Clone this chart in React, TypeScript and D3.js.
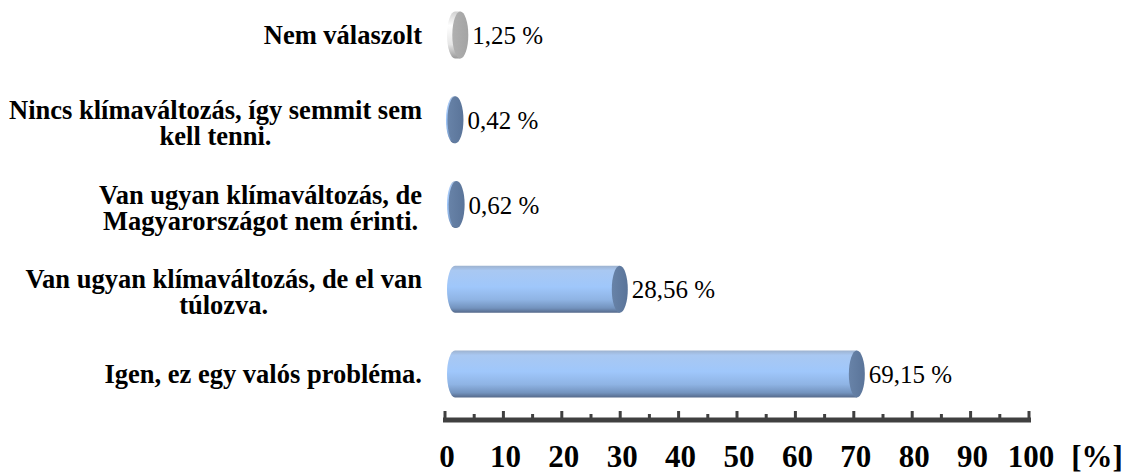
import React, { useEffect, useRef } from "react";
import * as d3 from "d3";

const categories = [
  "Nem válaszolt",
  "Nincs klímaváltozás, így semmit sem kell tenni.",
  "Van ugyan klímaváltozás, de Magyarországot nem érinti.",
  "Van ugyan klímaváltozás, de el van túlozva.",
  "Igen, ez egy valós probléma.",
];
const categoryLines = [
  ["Nem válaszolt"],
  ["Nincs klímaváltozás, így semmit sem", "kell tenni."],
  ["Van ugyan klímaváltozás, de", "Magyarországot nem érinti."],
  ["Van ugyan klímaváltozás, de el van", "túlozva."],
  ["Igen, ez egy valós probléma."],
];
const values = [1.25, 0.42, 0.62, 28.56, 69.15];
const valueLabels = ["1,25 %", "0,42 %", "0,62 %", "28,56 %", "69,15 %"];
const barStyles = ["gray", "blue", "blue", "blue", "blue"];
const tickValues = [0, 10, 20, 30, 40, 50, 60, 70, 80, 90, 100];
const minorTickValues = [5, 15, 25, 35, 45, 55, 65, 75, 85, 95];
const unitLabel = "[%]";

const W = 1132;
const H = 473;
const FONT = "Liberation Serif";

export default function App() {
  const ref = useRef<SVGSVGElement | null>(null);

  useEffect(() => {
    const svg = d3.select(ref.current);
    svg.selectAll("*").remove();

    const x = d3.scaleLinear().domain([0, 100]).range([445, 1029]);
    const y = d3.scalePoint<string>().domain(categories).range([35, 374]);
    const depth = 8;
    const rx = 8;
    const ry = 23.5;

    const defs = svg.append("defs");
    const addGrad = (id: string, stops: [number, string][], horiz = false) => {
      const g = defs.append("linearGradient").attr("id", id).attr("x1", 0).attr("y1", 0)
        .attr("x2", horiz ? 1 : 0).attr("y2", horiz ? 0 : 1);
      stops.forEach(([o, c]) => g.append("stop").attr("offset", o).attr("stop-color", c));
    };
    addGrad("gBlue", [
      [0, "#9db2cf"],
      [0.1, "#a9c8f2"],
      [0.45, "#9fc7fb"],
      [0.72, "#8fb4e4"],
      [0.9, "#7393be"],
      [1, "#55698a"],
    ]);
    addGrad("gGray", [
      [0, "#d0d0d0"],
      [0.3, "#ffffff"],
      [0.7, "#e6e6e6"],
      [1, "#9a9a9a"],
    ]);
    addGrad("fBlue", [[0, "#6883a8"], [1, "#5a7499"]], true);
    addGrad("fGray", [[0, "#b0b0b0"], [1, "#a4a4a4"]], true);

    const bars = svg.append("g");
    categories.forEach((cat, i) => {
      const cy = y(cat) as number;
      const right = x(values[i]) + depth;
      const left = Math.min(x(0) + depth + 2, right - 1.5);
      const isGray = barStyles[i] === "gray";
      const g = bars.append("g");
      g.append("path")
        .attr(
          "d",
          `M${right},${cy - ry} L${left},${cy - ry} A${rx},${ry} 0 0 0 ${left},${cy + ry} L${right},${cy + ry} Z`
        )
        .attr("fill", isGray ? "url(#gGray)" : "url(#gBlue)");
      g.append("ellipse")
        .attr("cx", right)
        .attr("cy", cy)
        .attr("rx", rx)
        .attr("ry", ry)
        .attr("fill", isGray ? "url(#fGray)" : "url(#fBlue)");
      g.append("text")
        .attr("x", right + 12)
        .attr("y", cy + 9)
        .style("font-family", FONT)
        .style("font-size", "25px")
        .attr("fill", "#000")
        .text(valueLabels[i]);
    });

    const labels = svg.append("g")
      .style("font-family", FONT)
      .style("font-weight", "bold")
      .style("font-size", "26.5px")
      .attr("fill", "#000");
    categories.forEach((cat, i) => {
      const cy = y(cat) as number;
      const lines = categoryLines[i];
      const n = lines.length;
      const texts = lines.map((l) => labels.append("text").text(l));
      const widths = texts.map((t) => (t.node() as SVGTextElement).getComputedTextLength());
      const maxW = d3.max(widths) as number;
      const center = 422 - maxW / 2;
      texts.forEach((t, j) => {
        t.attr("x", center)
          .attr("text-anchor", "middle")
          .attr("y", cy + 9 + (j - (n - 1) / 2) * 26 + (n > 1 ? 3 : 0));
      });
    });

    const axis = svg.append("g");
    const axisY = 420;
    axis.append("line")
      .attr("x1", x(0) - 2)
      .attr("x2", x(100) + 2)
      .attr("y1", axisY)
      .attr("y2", axisY)
      .attr("stroke", "#404040")
      .attr("stroke-width", 5);
    axis.selectAll("line.major")
      .data(tickValues)
      .join("line")
      .attr("class", "major")
      .attr("x1", (d) => x(d))
      .attr("x2", (d) => x(d))
      .attr("y1", 411)
      .attr("y2", axisY)
      .attr("stroke", "#404040")
      .attr("stroke-width", 3);
    axis.selectAll("line.minor")
      .data(minorTickValues)
      .join("line")
      .attr("class", "minor")
      .attr("x1", (d) => x(d))
      .attr("x2", (d) => x(d))
      .attr("y1", 414)
      .attr("y2", axisY)
      .attr("stroke", "#404040")
      .attr("stroke-width", 3);
    const tickG = axis.append("g")
      .style("font-family", FONT)
      .style("font-weight", "bold")
      .style("font-size", "31px")
      .attr("fill", "#000");
    tickG.selectAll("text")
      .data(tickValues)
      .join("text")
      .attr("x", (d) => x(d) + 2)
      .attr("y", 467)
      .attr("text-anchor", "middle")
      .text((d) => String(d));
    tickG.append("text")
      .attr("x", 1097)
      .attr("y", 467)
      .attr("text-anchor", "middle")
      .text(unitLabel);
  }, []);

  return (
    <svg
      ref={ref}
      width={W}
      height={H}
      style={{ position: "absolute", left: 0, top: 0, background: "#fff" }}
    />
  );
}
